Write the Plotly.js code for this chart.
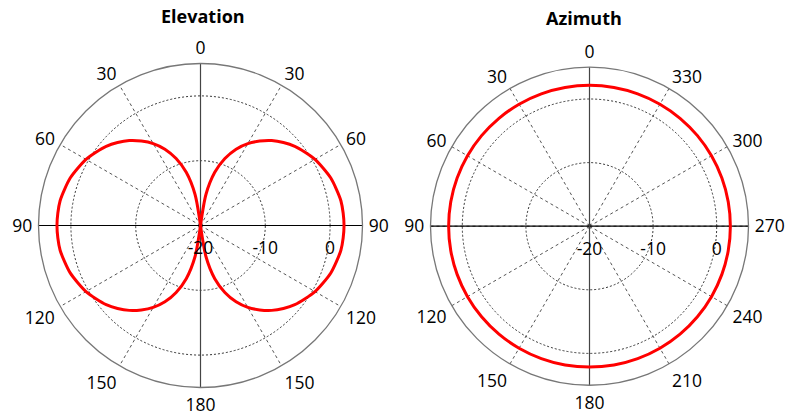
<!DOCTYPE html>
<html>
<head>
<meta charset="utf-8">
<script src="https://cdn.plot.ly/plotly-3.0.1.min.js"></script>
<style>html,body{margin:0;padding:0;background:#fff;}#chart{width:800px;height:416px;}</style>
</head>
<body>
<div id="chart"></div>
<script>
// Elevation pattern (dB), read every 5 degrees from 0 to 360
var elevTheta = [0,5,10,15,20,25,30,35,40,45,50,55,60,65,70,75,80,85,90,
  95,100,105,110,115,120,125,130,135,140,145,150,155,160,165,170,175,180,
  185,190,195,200,205,210,215,220,225,230,235,240,245,250,255,260,265,270,
  275,280,285,290,295,300,305,310,315,320,325,330,335,340,345,350,355,360];
var elevGain = [-20,-20,-15.1,-11.5,-9.0,-7.0,-5.4,-4.1,-2.9,-1.9,-1.0,-0.3,0.4,0.9,1.4,1.7,2.0,2.1,2.15,
  2.1,2.0,1.7,1.4,0.9,0.4,-0.3,-1.0,-1.9,-2.9,-4.1,-5.4,-7.0,-9.0,-11.5,-15.1,-20,-20,
  -20,-15.1,-11.5,-9.0,-7.0,-5.4,-4.1,-2.9,-1.9,-1.0,-0.3,0.4,0.9,1.4,1.7,2.0,2.1,2.15,
  2.1,2.0,1.7,1.4,0.9,0.4,-0.3,-1.0,-1.9,-2.9,-4.1,-5.4,-7.0,-9.0,-11.5,-15.1,-20,-20];

// Azimuth pattern (dB), read every 10 degrees
var aziTheta = [0,10,20,30,40,50,60,70,80,90,100,110,120,130,140,150,160,170,180,
  190,200,210,220,230,240,250,260,270,280,290,300,310,320,330,340,350,360];
var aziGain = [2.15,2.15,2.15,2.15,2.15,2.15,2.15,2.15,2.15,2.15,2.15,2.15,2.15,2.15,2.15,2.15,2.15,2.15,2.15,
  2.15,2.15,2.15,2.15,2.15,2.15,2.15,2.15,2.15,2.15,2.15,2.15,2.15,2.15,2.15,2.15,2.15,2.15];

// Axis definitions
var radialRange = [-20, 5];
var radialTicks = [-20, -10, 0];
var angleTicks = [0,30,60,90,120,150,180,210,240,270,300,330];
var elevTickText = ['0','30','60','90','120','150','180','150','120','90','60','30'];
var aziTickText = ['0','30','60','90','120','150','180','210','240','270','300','330'];

var FONT = 'Open Sans, Liberation Sans, sans-serif';

function crossTraces(sub) {
  var rOut = radialRange[1], rIn = radialRange[0];
  return [
    {type:'scatterpolar', subplot:sub, mode:'lines', r:[rOut, rIn, rOut], theta:[90, 90, 270],
     line:{color:'#000', width:1.2}, hoverinfo:'skip', showlegend:false},
    {type:'scatterpolar', subplot:sub, mode:'lines', r:[rOut, rIn, rOut], theta:[0, 0, 180],
     line:{color:'#444', width:1.2}, hoverinfo:'skip', showlegend:false}
  ];
}

var data = [].concat(
  crossTraces('polar'),
  [{type:'scatterpolar', subplot:'polar', mode:'lines', r:elevGain, theta:elevTheta,
    line:{color:'#ff0000', width:3, shape:'spline', smoothing:0.8}, hoverinfo:'skip', showlegend:false}],
  crossTraces('polar2'),
  [{type:'scatterpolar', subplot:'polar2', mode:'lines', r:aziGain, theta:aziTheta,
    line:{color:'#ff0000', width:3, shape:'spline', smoothing:1}, hoverinfo:'skip', showlegend:false}]
);

function polarLayout(domX, domY, dir, tickText) {
  return {
    domain:{x:domX, y:domY},
    bgcolor:'rgba(0,0,0,0)',
    radialaxis:{
      range:radialRange, tickvals:radialTicks, ticktext:radialTicks.map(String),
      angle:0, side:'clockwise', showline:false,
      ticks:'outside', ticklen:7, tickcolor:'rgba(0,0,0,0)',
      showgrid:true, gridcolor:'#333', griddash:'2px,2px', gridwidth:1,
      tickfont:{family:FONT, size:17.5, color:'#000'}, tickangle:0
    },
    angularaxis:{
      rotation:90, direction:dir, tickmode:'array', tickvals:angleTicks, ticktext:tickText,
      showline:true, linecolor:'#777', linewidth:1.3,
      ticks:'outside', ticklen:2, tickcolor:'rgba(0,0,0,0)',
      showgrid:true, gridcolor:'#555', griddash:'3px,3px', gridwidth:1,
      tickfont:{family:FONT, size:17.5, color:'#000'}
    }
  };
}

var layout = {
  width:800, height:416,
  margin:{l:0, r:0, t:0, b:0},
  paper_bgcolor:'#fff',
  showlegend:false,
  polar: polarLayout([0.048125, 0.453125], [0.0685, 0.8474], 'clockwise', elevTickText),
  polar2: polarLayout([0.538125, 0.935625], [0.0740, 0.8385], 'counterclockwise', aziTickText),
  annotations:[
    {text:'<b>Elevation</b>', xref:'paper', yref:'paper', x:203/800, y:1-16/416,
     xanchor:'center', yanchor:'middle', showarrow:false, font:{family:FONT, size:18, color:'#000'}},
    {text:'<b>Azimuth</b>', xref:'paper', yref:'paper', x:584/800, y:1-18/416,
     xanchor:'center', yanchor:'middle', showarrow:false, font:{family:FONT, size:18, color:'#000'}}
  ]
};

Plotly.newPlot('chart', data, layout, {staticPlot:true, displayModeBar:false});
</script>
</body>
</html>
